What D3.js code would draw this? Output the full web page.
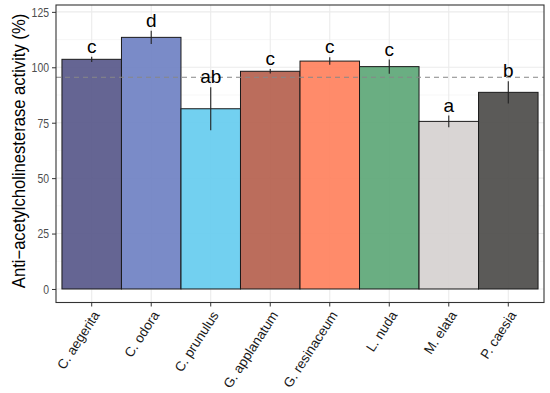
<!DOCTYPE html>
<html>
<head>
<meta charset="utf-8">
<script src="https://cdn.jsdelivr.net/npm/d3@7"></script>
<style>
  body { margin: 0; background: #fff; }
  text { font-family: "Liberation Sans", Arial, sans-serif; }
</style>
</head>
<body>
<svg id="svg1"></svg>
<script>
const species = ['C. aegerita', 'C. odora', 'C. prunulus', 'G. applanatum', 'G. resinaceum', 'L. nuda', 'M. elata', 'P. caesia'];
const activity = [103.6, 113.5, 81.3, 98.2, 102.8, 100.3, 75.6, 88.7];
const errors = [1.2, 3.0, 9.7, 1.0, 1.7, 3.2, 2.6, 5.0];
const letters = ['c', 'd', 'ab', 'c', 'c', 'c', 'a', 'b'];
const colors = ['#58588a', '#6f81c3', '#66ccef', '#b5614e', '#ff815d', '#5da777', '#d6d1d0', '#4d4c4a'];
const yTicks = [0, 25, 50, 75, 100, 125];
const refLine = 95.5;

const width = 550, height = 393;
const panel = {left: 56, right: 544, top: 5, bottom: 302.5};

const svg = d3.select('#svg1')
    .attr('width', width)
    .attr('height', height);

const x = d3.scaleBand()
    .domain(species)
    .range([panel.left, panel.right])
    .paddingInner(0)
    .paddingOuter(0.1);

const y = d3.scaleLinear()
    .domain([-6.1, 128.1])
    .range([panel.bottom, panel.top]);

// grid
const minor = d3.range(12.5, 128, 25);
svg.append('g').selectAll('line').data(minor).join('line')
    .attr('x1', panel.left).attr('x2', panel.right)
    .attr('y1', d => y(d)).attr('y2', d => y(d))
    .style('stroke', '#f2f2f2').style('stroke-width', 0.6);
svg.append('g').selectAll('line').data(yTicks).join('line')
    .attr('x1', panel.left).attr('x2', panel.right)
    .attr('y1', d => y(d)).attr('y2', d => y(d))
    .style('stroke', '#ebebeb').style('stroke-width', 1.1);
svg.append('g').selectAll('line').data(species).join('line')
    .attr('x1', d => x(d) + x.bandwidth() / 2).attr('x2', d => x(d) + x.bandwidth() / 2)
    .attr('y1', panel.top).attr('y2', panel.bottom)
    .style('stroke', '#ebebeb').style('stroke-width', 1.1);

// bars
svg.append('g').selectAll('rect').data(species).join('rect')
    .attr('x', d => x(d))
    .attr('y', (d, i) => y(activity[i]))
    .attr('width', x.bandwidth())
    .attr('height', (d, i) => y(0) - y(activity[i]))
    .style('fill', (d, i) => colors[i])
    .style('fill-opacity', 0.92)
    .style('stroke', '#1a1a1a')
    .style('stroke-width', 1);

// reference line
svg.append('line')
    .attr('x1', panel.left).attr('x2', panel.right)
    .attr('y1', y(refLine)).attr('y2', y(refLine))
    .style('stroke', '#888')
    .style('stroke-width', 1)
    .style('stroke-dasharray', '5,4');

// error bars
svg.append('g').selectAll('line').data(species).join('line')
    .attr('x1', d => x(d) + x.bandwidth() / 2).attr('x2', d => x(d) + x.bandwidth() / 2)
    .attr('y1', (d, i) => y(activity[i] + errors[i]))
    .attr('y2', (d, i) => y(activity[i] - errors[i]))
    .style('stroke', '#222').style('stroke-width', 1.1);

// letters
svg.append('g').selectAll('text').data(species).join('text')
    .attr('x', d => x(d) + x.bandwidth() / 2)
    .attr('y', (d, i) => y(activity[i] + errors[i]) - 4)
    .attr('text-anchor', 'middle')
    .style('font-size', '19px')
    .style('fill', '#000')
    .text((d, i) => letters[i]);

// panel border
svg.append('rect')
    .attr('x', panel.left).attr('y', panel.top)
    .attr('width', panel.right - panel.left)
    .attr('height', panel.bottom - panel.top)
    .style('fill', 'none')
    .style('stroke', '#333')
    .style('stroke-width', 1.1);

// y axis
const yAxis = svg.append('g')
    .attr('transform', `translate(${panel.left},0)`)
    .call(d3.axisLeft(y).tickValues(yTicks).tickSize(4).tickPadding(3));
yAxis.select('.domain').remove();
yAxis.selectAll('line').style('stroke', '#333');
yAxis.selectAll('text')
    .style('font-size', '13.5px').style('fill', '#4d4d4d')
    .style('font-family', '"Liberation Sans", Arial, sans-serif')
    .attr('textLength', d => String(d).length * 5.8)
    .attr('lengthAdjust', 'spacingAndGlyphs');

// x axis
const xAxis = svg.append('g')
    .attr('transform', `translate(0,${panel.bottom})`)
    .call(d3.axisBottom(x).tickSize(4).tickPadding(2));
xAxis.select('.domain').remove();
xAxis.selectAll('line').style('stroke', '#333');
xAxis.selectAll('text')
    .style('font-size', '13.5px')
    .style('fill', '#1a1a1a')
    .style('font-family', '"Liberation Sans", Arial, sans-serif')
    .attr('text-anchor', 'end')
    .attr('y', 0)
    .attr('dy', 0)
    .attr('transform', 'translate(8.5,12.5) rotate(-57)');

// y title (glyphs a little taller than wide, like the original)
svg.append('text')
    .attr('transform', `translate(25,151) rotate(-90) scale(1,1.08)`)
    .attr('text-anchor', 'middle')
    .style('font-size', '16.6px')
    .style('fill', '#000')
    .text('Anti\u2212acetylcholinesterase activity (%)');
</script>
</body>
</html>
